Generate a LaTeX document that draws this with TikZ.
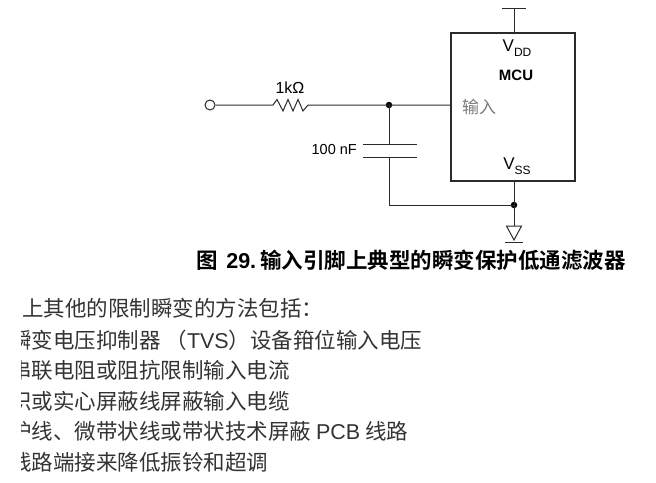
\documentclass[tikz,border=0pt]{standalone}
\usepackage{fontspec}
\setmainfont{Liberation Sans}
\newfontfamily\cjk{Noto Sans CJK SC}[BoldFont={Noto Sans CJK SC Bold}]
\definecolor{wire}{HTML}{2A2A2A}
\definecolor{bodytxt}{HTML}{333333}
\definecolor{pingray}{HTML}{7A7A7A}
\newcommand{\fs}[1]{\fontsize{#1}{#1}\selectfont}
\newcommand{\vsub}[1]{V\raisebox{-0.28em}{\fs{12}#1}}
\begin{document}
\begin{tikzpicture}[x=1pt,y=-1pt,
  wirestyle/.style={draw=wire,line width=1pt},
  dotstyle/.style={circle,fill=black,inner sep=0pt,minimum size=6.5pt},
  lbl/.style={inner sep=0pt,text=black},
  bodyline/.style={anchor=west,inner sep=0pt,text=bodytxt,font=\fs{21.5}\cjk}]
\useasboundingbox (0,0) rectangle (656,482);
% input terminal and resistor
\node[circle,draw=wire,line width=1pt,minimum size=10pt,inner sep=0pt] (term) at (210,105) {};
\coordinate (r1) at (273,105);
\coordinate (r2) at (308,105);
\node[dotstyle] (j1) at (389,105) {};
\node[draw=wire,line width=1.2pt,minimum width=124pt,minimum height=148pt,inner sep=0pt] (mcu) at (513,107) {};
\draw[wirestyle] (term.east) -- (r1) -- (277,99.5) -- (283,111) -- (288,99.5) -- (293,111) -- (298,99.5) -- (303,111) -- (r2) -- (j1.center) -- (mcu.west |- j1);
\node[lbl,font=\fs{16}] (rlab) at (290,88) {1kΩ};
% VDD pin
\coordinate (vddtop) at (514,8);
\coordinate (vddl) at (502,8);
\coordinate (vddr) at (526,8);
\draw[wirestyle] (mcu.north -| vddtop) -- (vddtop);
\draw[wirestyle] (vddl) -- (vddr);
% capacitor
\coordinate (c1) at (389,144);
\coordinate (c2) at (389,157);
\draw[wirestyle] (j1.center) -- (c1);
\draw[wirestyle] (363,144) -- (417,144);
\draw[wirestyle] (363,157) -- (417,157);
\node[lbl,font=\fs{14.5},anchor=east] (clab) at (357,150) {100 nF};
% ground net
\node[dotstyle] (j2) at (514,205) {};
\draw[wirestyle] (c2) -- (c2 |- j2) -- (j2.center);
\draw[wirestyle] (mcu.south -| j2) -- (j2.center);
\coordinate (gtop) at (514,226);
\draw[wirestyle] (j2.center) -- (gtop);
\draw[wirestyle,line join=miter] (506.5,226) -- (521.5,226) -- (514,240) -- cycle;
\draw[wirestyle] (505,242) -- (523,242);
% MCU texts
\node[lbl,font=\fs{17}] (vdd) at (517,48) {\vsub{DD}};
\node[lbl,font=\fs{15}\bfseries] (mcut) at (516,75) {MCU};
\node[lbl,font=\fs{17}\cjk,text=pingray,anchor=west] (inp) at (462,107) {输入};
\node[lbl,font=\fs{17}] (vss) at (517,166) {\vsub{SS}};
% caption
\node[lbl,anchor=west,font=\fs{21.5}\bfseries] (cap) at (196,260) {{\cjk 图}\hspace{0.4em}29.\hspace{0.2em}{\cjk 输入引脚上典型的瞬变保护低通滤波器}};
% body text (cropped at the left)
\begin{scope}
\clip (21,280) rectangle (656,482);
\node[bodyline] (l1) at (22,308) {上其他的限制瞬变的方法包括：};
\node[bodyline] (l2) at (10,340) {瞬变电压抑制器 （{\rmfamily TVS}）设备箝位输入电压};
\node[bodyline] (l3) at (10,370.5) {串联电阻或阻抗限制输入电流};
\node[bodyline] (l4) at (10,401) {织或实心屏蔽线屏蔽输入电缆};
\node[bodyline] (l5) at (10,431.5) {护线、微带状线或带状技术屏蔽 {\rmfamily PCB} 线路};
\node[bodyline] (l6) at (10,462) {线路端接来降低振铃和超调};
\end{scope}
\end{tikzpicture}
\end{document}
